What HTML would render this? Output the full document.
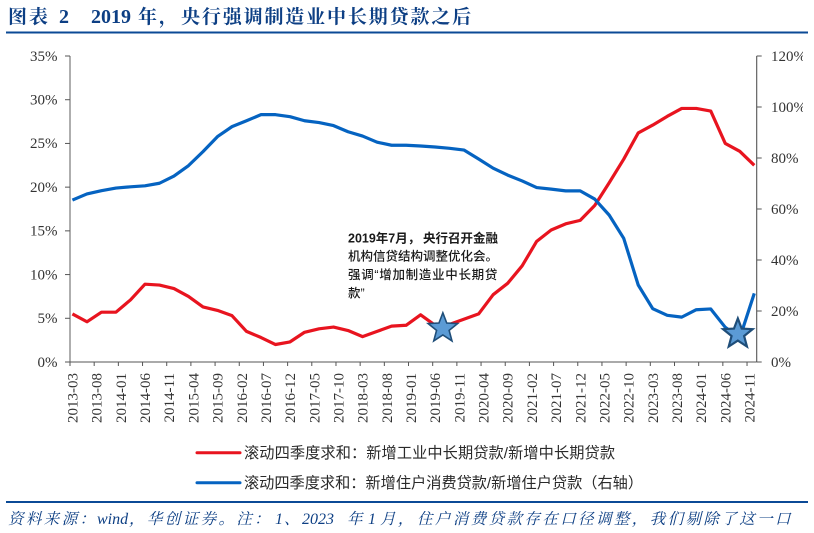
<!DOCTYPE html>
<html lang="zh-CN">
<head>
<meta charset="utf-8">
<title>2019 年，央行强调制造业中长期贷款之后</title>
<style>
html,body{margin:0;padding:0;background:#fff;width:814px;height:533px;overflow:hidden}
svg{display:block}
.ax{font-family:"Liberation Serif","Noto Serif CJK SC",serif;font-size:15px;fill:#333}
.ttl{font-family:"Liberation Serif","Noto Serif CJK SC",serif;font-size:19px;font-weight:700;fill:#0d3f84}
.ttl-num{font-size:20px;font-weight:700}
.leg{font-family:"Liberation Sans","Noto Sans CJK SC",sans-serif;font-size:15.2px;fill:#2a2a2a;font-weight:400}
.ann{font-family:"Liberation Sans","Noto Sans CJK SC",sans-serif;font-size:12.5px;fill:#1a1a1a;font-weight:500}
.ann-b{font-weight:700}
.src{font-family:"Liberation Serif","Noto Serif CJK SC",serif;font-size:15.5px;font-style:italic;fill:#0d3f84}
.src-cjk{letter-spacing:2.4px}
</style>
</head>
<body>
<svg id="chart" xmlns="http://www.w3.org/2000/svg" width="814" height="533" viewBox="0 0 814 533">
  <defs><clipPath id="right-clip"><rect x="760" y="40" width="43" height="340"/></clipPath></defs>
  <g>
    <text class="ttl" y="23"><tspan x="8" letter-spacing="1.9">图表</tspan><tspan class="ttl-num" x="59">2</tspan><tspan class="ttl-num" x="91">2019</tspan><tspan x="138" letter-spacing="1.9">年，</tspan><tspan x="181" letter-spacing="1.86">央行强调制造业中长期贷款之后</tspan></text>
  </g>
  <line x1="6" y1="32.5" x2="808" y2="32.5" stroke="#0b4a96" stroke-width="2"/>

  <g id="axes"></g>
  <g id="series"></g>
  <g id="markers"></g>

  <g>
    <text class="ann ann-b" y="242.5"><tspan x="348">2019年7月，</tspan><tspan x="423">央行召开金融</tspan></text>
    <text class="ann" x="348" y="260.5">机构信贷结构调整优化会。</text>
    <text class="ann" x="348" y="279" letter-spacing="0.7">强调“增加制造业中长期贷</text>
    <text class="ann" x="348" y="297.5">款”</text>
  </g>

  <g>
    <line x1="197" y1="452.7" x2="240" y2="452.7" stroke="#e8141f" stroke-width="3" stroke-linecap="round"/>
    <text class="leg" x="244" y="458" textLength="371" lengthAdjust="spacing">滚动四季度求和：新增工业中长期贷款/新增中长期贷款</text>
    <line x1="197" y1="482.7" x2="240" y2="482.7" stroke="#0563c1" stroke-width="3" stroke-linecap="round"/>
    <text class="leg" x="244" y="488" textLength="399" lengthAdjust="spacing">滚动四季度求和：新增住户消费贷款/新增住户贷款（右轴）</text>
  </g>

  <line x1="6" y1="502" x2="808" y2="502" stroke="#0b4a96" stroke-width="2"/>
  <text class="src" y="524"><tspan class="src-cjk" x="8">资料来源：</tspan><tspan x="97" font-size="16">wind</tspan><tspan class="src-cjk" x="129">，华创证券。注：</tspan><tspan x="275" font-size="16">1</tspan><tspan x="284">、</tspan><tspan x="302" font-size="16">2023</tspan><tspan x="347">年</tspan><tspan x="368" font-size="16">1</tspan><tspan x="380" letter-spacing="2.4">月，</tspan><tspan class="src-cjk" x="417">住户消费贷款存在口径调整，我们剔除了这一口</tspan></text>
</svg>
<script>
const quarterDates = ["2013-03","2013-06","2013-09","2013-12","2014-03","2014-06","2014-09","2014-12","2015-03","2015-06","2015-09","2015-12","2016-03","2016-06","2016-09","2016-12","2017-03","2017-06","2017-09","2017-12","2018-03","2018-06","2018-09","2018-12","2019-03","2019-06","2019-09","2019-12","2020-03","2020-06","2020-09","2020-12","2021-03","2021-06","2021-09","2021-12","2022-03","2022-06","2022-09","2022-12","2023-03","2023-06","2023-09","2023-12","2024-03","2024-06","2024-09","2024-12"];
const manufacturingShare = [5.5,4.6,5.7,5.7,7.1,8.9,8.8,8.4,7.5,6.3,5.9,5.3,3.5,2.8,2.0,2.3,3.4,3.8,4.0,3.6,2.9,3.5,4.1,4.2,5.4,4.2,4.3,4.9,5.5,7.7,9.0,11.0,13.8,15.1,15.8,16.2,17.9,20.5,23.2,26.2,27.1,28.1,29.0,29.0,28.7,25.0,24.1,22.5];
const housingShare = [63.5,65.9,67.2,68.2,68.7,69.1,70.1,72.9,77.0,82.5,88.4,92.3,94.6,97.0,97.0,96.2,94.6,93.9,92.7,90.3,88.6,86.2,85.0,85.0,84.7,84.3,83.8,83.1,79.6,76.0,73.3,71.0,68.4,67.8,67.1,67.1,63.9,57.6,48.5,30.2,20.9,18.3,17.6,20.5,20.8,13.6,9.4,26.9];
const xTickLabels = ["2013-03","2013-08","2014-01","2014-06","2014-11","2015-04","2015-09","2016-02","2016-07","2016-12","2017-05","2017-10","2018-03","2018-08","2019-01","2019-06","2019-11","2020-04","2020-09","2021-02","2021-07","2021-12","2022-05","2022-10","2023-03","2023-08","2024-01","2024-06","2024-11"];
const leftTicks = [0,5,10,15,20,25,30,35];
const rightTicks = [0,20,40,60,80,100,120];
const markerMonths = [76.6,137.6];
const markerRightValues = [13.2,11];

const SVGNS = "http://www.w3.org/2000/svg";
const plotLeft = 70, plotRight = 756.7, plotTop = 56, plotBottom = 362, totalMonths = 142;
function monthIndex(d){const p=d.split("-");return (+p[0]-2013)*12+(+p[1])-3;}
function xTick(m){return plotLeft+m*(plotRight-plotLeft)/totalMonths;}
function xPoint(m){return xTick(m+0.5);}
function yLeft(v){return plotBottom-v/35*(plotBottom-plotTop);}
function yRight(v){return plotBottom-v/120*(plotBottom-plotTop);}
function make(tag,attrs,parent,text){
  const el=document.createElementNS(SVGNS,tag);
  for(const k in attrs)el.setAttribute(k,attrs[k]);
  if(text!==undefined)el.textContent=text;
  parent.appendChild(el);
  return el;
}
const axes=document.getElementById("axes");
const series=document.getElementById("series");
const markers=document.getElementById("markers");

let el;
el=make("line",{x1:plotLeft,y1:plotTop,x2:plotLeft,y2:plotBottom,stroke:"#9a9a9a","stroke-width":1.6},axes);


el=make("line",{x1:plotRight,y1:plotTop,x2:plotRight,y2:plotBottom,stroke:"#555","stroke-width":1.1},axes);


el=make("line",{x1:plotLeft,y1:plotBottom,x2:plotRight,y2:plotBottom,stroke:"#555","stroke-width":1.1},axes);



leftTicks.forEach(function(v){
  const y=yLeft(v);
  const t=make("line",{x1:plotLeft-5,y1:y,x2:plotLeft,y2:y,stroke:"#555","stroke-width":1},axes);
  
  
  const l=make("text",{class:"ax",x:57.5,y:y+4.8,"text-anchor":"end"},axes,v+"%");
  
  
});
rightTicks.forEach(function(v){
  const y=yRight(v);
  const t=make("line",{x1:plotRight,y1:y,x2:plotRight+5,y2:y,stroke:"#555","stroke-width":1},axes);
  
  
  const l=make("text",{class:"ax",x:771,y:y+4.8,"clip-path":"url(#right-clip)"},axes,v+"%");
  
  
});
xTickLabels.forEach(function(d){
  const x=xTick(monthIndex(d));
  const t=make("line",{x1:x,y1:plotBottom,x2:x,y2:plotBottom+4,stroke:"#555","stroke-width":1},axes);
  
  
  const lx=x+7.5, ly=373;
  const l=make("text",{class:"ax",x:lx,y:ly,"text-anchor":"end",transform:"rotate(-90 "+lx+" "+ly+")"},axes,d);
  
  
});

function linePoints(values,yFn){
  return values.map(function(v,i){return xPoint(monthIndex(quarterDates[i])).toFixed(2)+","+yFn(v).toFixed(2);}).join(" ");
}
const redLine=make("polyline",{points:linePoints(manufacturingShare,yLeft),fill:"none",stroke:"#e8141f","stroke-width":3.2,"stroke-linejoin":"round"},series);


const blueLine=make("polyline",{points:linePoints(housingShare,yRight),fill:"none",stroke:"#0563c1","stroke-width":3.2,"stroke-linejoin":"round"},series);



function starPoints(cx,cy,R,r){
  const pts=[];
  for(let i=0;i<10;i++){
    const a=-Math.PI/2+i*Math.PI/5, rad=i%2?r:R;
    pts.push((cx+rad*Math.cos(a)).toFixed(2)+","+(cy+rad*Math.sin(a)).toFixed(2));
  }
  return pts.join(" ");
}
markerMonths.forEach(function(m,i){
  const star=make("polygon",{points:starPoints(xPoint(m),yRight(markerRightValues[i]),15.5,6.6),fill:"#5b9bd5",stroke:"#1f4e79","stroke-width":i===1?2.2:1.6},markers);
  
  
});
</script>
</body>
</html>
